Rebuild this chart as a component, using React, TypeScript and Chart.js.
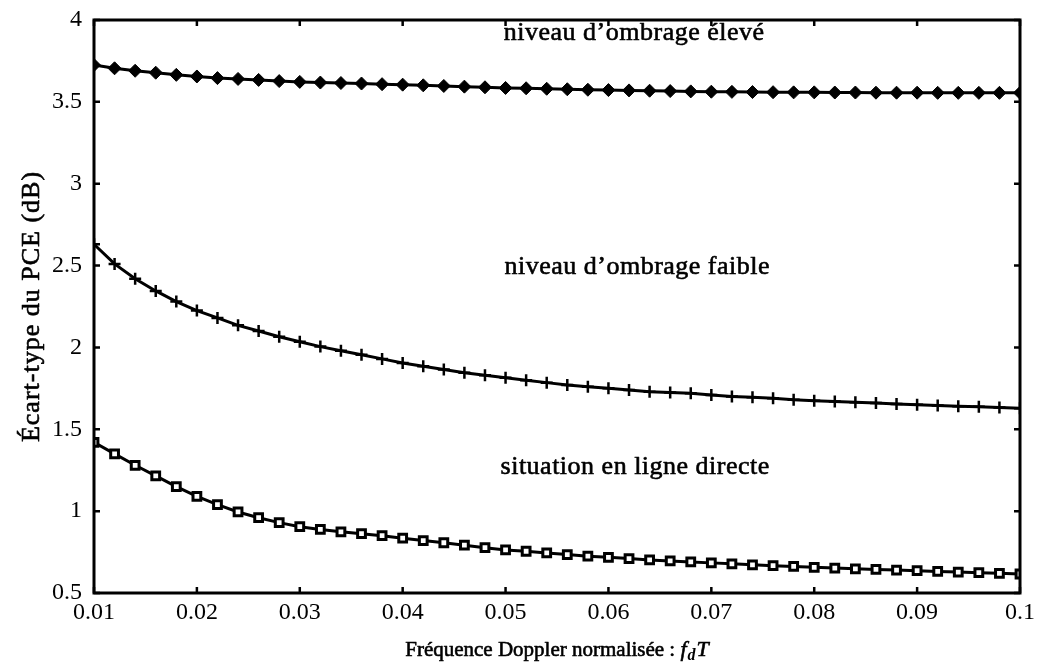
import React, { useEffect, useRef } from "react";
import { Chart, registerables } from "chart.js";

Chart.register(...registerables);

const xValues = [
  0.01, 0.012, 0.014, 0.016, 0.018, 0.02, 0.022, 0.024, 0.026, 0.028,
  0.03, 0.032, 0.034, 0.036, 0.038, 0.04, 0.042, 0.044, 0.046, 0.048,
  0.05, 0.052, 0.054, 0.056, 0.058, 0.06, 0.062, 0.064, 0.066, 0.068,
  0.07, 0.072, 0.074, 0.076, 0.078, 0.08, 0.082, 0.084, 0.086, 0.088,
  0.09, 0.092, 0.094, 0.096, 0.098, 0.1,
];

const ombrageEleve = [
  3.725, 3.705, 3.69, 3.678, 3.665, 3.655, 3.645, 3.64, 3.634, 3.627,
  3.622, 3.618, 3.615, 3.612, 3.608, 3.605, 3.601, 3.597, 3.593, 3.589,
  3.585, 3.583, 3.58, 3.577, 3.574, 3.572, 3.57, 3.568, 3.566, 3.564,
  3.562, 3.561, 3.56, 3.559, 3.558, 3.558, 3.557, 3.557, 3.556, 3.556,
  3.556, 3.555, 3.555, 3.555, 3.555, 3.555,
];

const ombrageFaible = [
  2.63, 2.51, 2.42, 2.345, 2.28, 2.225, 2.18, 2.135, 2.1, 2.065,
  2.035, 2.005, 1.98, 1.955, 1.93, 1.905, 1.885, 1.865, 1.845, 1.83,
  1.815, 1.8, 1.785, 1.77, 1.76, 1.75, 1.74, 1.73, 1.725, 1.72,
  1.71, 1.7, 1.695, 1.69, 1.68, 1.675, 1.67, 1.665, 1.66, 1.655,
  1.65, 1.645, 1.64, 1.637, 1.633, 1.628,
];

const ligneDirecte = [
  1.42, 1.35, 1.28, 1.215, 1.15, 1.09, 1.04, 0.995, 0.96, 0.93,
  0.905, 0.888, 0.874, 0.862, 0.85, 0.835, 0.82, 0.807, 0.792, 0.777,
  0.763, 0.755, 0.745, 0.735, 0.725, 0.718, 0.71, 0.702, 0.696, 0.69,
  0.684, 0.678, 0.672, 0.667, 0.662, 0.657, 0.652, 0.648, 0.644, 0.64,
  0.636, 0.632, 0.628, 0.624, 0.62, 0.616,
];

const xTickValues = [0.01, 0.02, 0.03, 0.04, 0.05, 0.06, 0.07, 0.08, 0.09, 0.1];
const xTickLabels = ["0.01", "0.02", "0.03", "0.04", "0.05", "0.06", "0.07", "0.08", "0.09", "0.1"];
const yTickValues = [0.5, 1, 1.5, 2, 2.5, 3, 3.5, 4];
const yTickLabels = ["0.5", "1", "1.5", "2", "2.5", "3", "3.5", "4"];

const annotationTexts = ["niveau d\u2019ombrage élevé", "niveau d\u2019ombrage faible", "situation en ligne directe"];
const annotationX = [0.0625, 0.0628, 0.0626];
const annotationY = [3.92, 2.488, 1.268];

const yTitle = "Écart-type du PCE (dB)";
const xTitleMain = "Fréquence Doppler normalisée : ";

const SERIF = "'Liberation Serif', 'DejaVu Serif', serif";

const drawHeavy = (ctx: any, t: string, x: number, y: number) => {
  ctx.fillText(t, x, y);
  ctx.strokeText(t, x, y);
};

const framePlugin = {
  id: "framePlugin",
  afterDraw(chart: any) {
    const { ctx, chartArea } = chart;
    const xs = chart.scales.x;
    const ys = chart.scales.y;
    ctx.save();
    ctx.strokeStyle = "#000";
    ctx.lineWidth = 3;
    ctx.strokeRect(chartArea.left, chartArea.top, chartArea.right - chartArea.left, chartArea.bottom - chartArea.top);
    ctx.lineWidth = 2.5;
    const len = 6;
    ctx.beginPath();
    xTickValues.forEach((v) => {
      const px = xs.getPixelForValue(v);
      ctx.moveTo(px, chartArea.bottom);
      ctx.lineTo(px, chartArea.bottom - len);
      ctx.moveTo(px, chartArea.top);
      ctx.lineTo(px, chartArea.top + len);
    });
    yTickValues.forEach((v) => {
      const py = ys.getPixelForValue(v);
      ctx.moveTo(chartArea.left, py);
      ctx.lineTo(chartArea.left + len, py);
      ctx.moveTo(chartArea.right, py);
      ctx.lineTo(chartArea.right - len, py);
    });
    ctx.stroke();

    ctx.fillStyle = "#000";
    ctx.lineWidth = 0.6;
    ctx.lineJoin = "round";

    // annotations
    ctx.font = `26px ${SERIF}`;
    (ctx as any).letterSpacing = "0.5px";
    ctx.textAlign = "center";
    ctx.textBaseline = "middle";
    annotationTexts.forEach((t, i) => {
      drawHeavy(ctx, t, xs.getPixelForValue(annotationX[i]), ys.getPixelForValue(annotationY[i]));
    });

    // y title
    ctx.save();
    ctx.translate(32, (chartArea.top + chartArea.bottom) / 2);
    ctx.rotate(-Math.PI / 2);
    ctx.font = `26px ${SERIF}`;
    (ctx as any).letterSpacing = "1px";
    ctx.textAlign = "center";
    ctx.textBaseline = "middle";
    drawHeavy(ctx, yTitle, 0, 0);
    ctx.restore();

    // x title with f_d T
    (ctx as any).letterSpacing = "0px";
    const fMain = `21px ${SERIF}`;
    const fIt = `italic 22px ${SERIF}`;
    const fSub = `italic bold 16px ${SERIF}`;
    ctx.textAlign = "left";
    ctx.textBaseline = "alphabetic";
    ctx.font = fMain;
    const w1 = ctx.measureText(xTitleMain).width;
    ctx.font = fIt;
    const w2 = ctx.measureText("f").width;
    ctx.font = fSub;
    const w3 = ctx.measureText("d").width;
    ctx.font = fIt;
    const w4 = ctx.measureText("T").width;
    const total = w1 + w2 + w3 + w4 + 2;
    let x0 = (chartArea.left + chartArea.right) / 2 - total / 2;
    const base = 656;
    ctx.font = fMain;
    drawHeavy(ctx, xTitleMain, x0, base);
    x0 += w1;
    ctx.font = fIt;
    drawHeavy(ctx, "f", x0, base);
    x0 += w2 + 1;
    ctx.font = fSub;
    ctx.fillText("d", x0, base + 4);
    x0 += w3 + 1;
    ctx.font = fIt;
    drawHeavy(ctx, "T", x0, base);
    ctx.restore();
  },
};

export default function App() {
  const ref = useRef<HTMLCanvasElement | null>(null);
  useEffect(() => {
    if (!ref.current) return;
    const mk = (d: number[]) => xValues.map((x, i) => ({ x, y: d[i] }));
    const chart = new Chart(ref.current, {
      type: "line",
      data: {
        datasets: [
          {
            label: "niveau d'ombrage élevé",
            data: mk(ombrageEleve),
            borderColor: "#000",
            borderWidth: 3,
            pointStyle: "rectRot",
            pointRadius: 6.5,
            pointBackgroundColor: "#000",
            pointBorderColor: "#000",
            pointBorderWidth: 1,
            clip: 0,
          },
          {
            label: "niveau d'ombrage faible",
            data: mk(ombrageFaible),
            borderColor: "#000",
            borderWidth: 3,
            pointStyle: "cross",
            pointRadius: 6,
            pointBorderColor: "#000",
            pointBorderWidth: 2.5,
            clip: 0,
          },
          {
            label: "situation en ligne directe",
            data: mk(ligneDirecte),
            borderColor: "#000",
            borderWidth: 3,
            pointStyle: "rect",
            pointRadius: 5.5,
            pointBackgroundColor: "#fff",
            pointBorderColor: "#000",
            pointBorderWidth: 3,
            clip: 0,
          },
        ] as any,
      },
      options: {
        animation: false,
        responsive: true,
        maintainAspectRatio: false,
        layout: { padding: { top: 20, right: 19, left: 0, bottom: 0 } },
        plugins: { legend: { display: false }, tooltip: { enabled: false } },
        elements: { line: { tension: 0 } },
        scales: {
          x: {
            type: "linear",
            min: 0.01,
            max: 0.1,
            afterBuildTicks: (s: any) => {
              s.ticks = xTickValues.map((v) => ({ value: v }));
            },
            afterFit: (s: any) => {
              s.height = 78;
              s.paddingLeft = 0;
              s.paddingRight = 0;
            },
            ticks: {
              autoSkip: false,
              maxRotation: 0,
              padding: 5,
              color: "#000",
              font: { family: SERIF, size: 24 },
              callback: (v: any) => {
                const i = xTickValues.findIndex((t) => Math.abs(t - Number(v)) < 1e-9);
                return i >= 0 ? xTickLabels[i] : "";
              },
            },
            grid: { display: false, drawTicks: false },
            border: { display: false },
          },
          y: {
            type: "linear",
            min: 0.5,
            max: 4,
            afterBuildTicks: (s: any) => {
              s.ticks = yTickValues.map((v) => ({ value: v }));
            },
            afterFit: (s: any) => {
              s.width = 94;
              s.paddingTop = 0;
              s.paddingBottom = 0;
            },
            ticks: {
              autoSkip: false,
              padding: 12,
              color: "#000",
              font: { family: SERIF, size: 24 },
              callback: (v: any) => {
                const i = yTickValues.findIndex((t) => Math.abs(t - Number(v)) < 1e-9);
                return i >= 0 ? yTickLabels[i] : "";
              },
            },
            grid: { display: false, drawTicks: false },
            border: { display: false },
          },
        },
      } as any,
      plugins: [framePlugin],
    });
    return () => chart.destroy();
  }, []);
  return (
    <div style={{ position: "fixed", left: 0, top: 0, width: 1039, height: 671, background: "#fff" }}>
      <canvas ref={ref} />
    </div>
  );
}
